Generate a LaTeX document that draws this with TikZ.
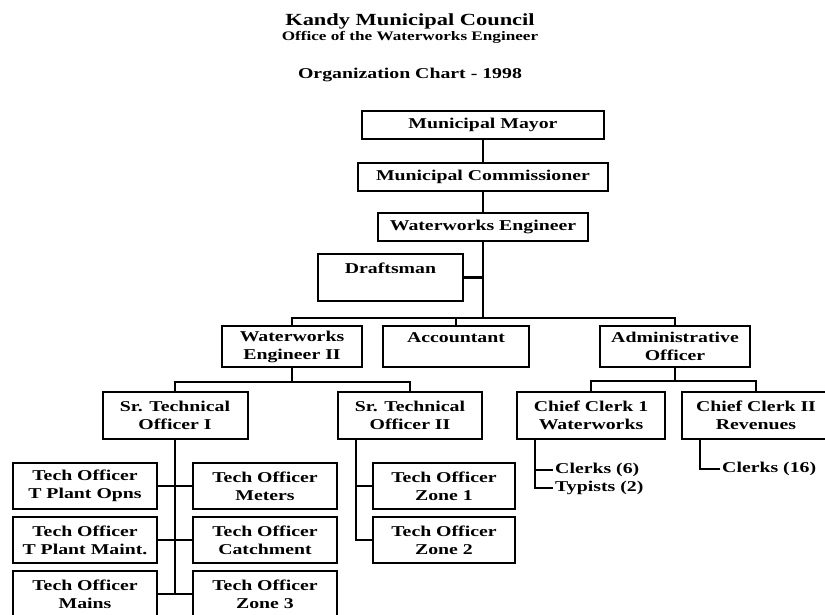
\documentclass[tikz,border=0pt]{standalone}
\usepackage{fontspec}
\setmainfont{Liberation Serif}[FakeStretch=1.32]
\begin{document}
\begin{tikzpicture}[x=1pt,y=-1pt,
  post/.style={draw=black,line width=2pt,inner sep=0pt,align=center,
    font=\fontsize{15}{18}\selectfont\bfseries},
  link/.style={draw=black,line width=2.5pt},
  note/.style={anchor=west,inner sep=2pt,font=\fontsize{15}{18}\selectfont\bfseries},
  heading/.style={anchor=base,inner sep=0pt}]
\useasboundingbox[fill=white] (0,0) rectangle (825,614);

% heading
\node[heading,font=\fontsize{17}{20}\selectfont\bfseries] (t1) at (410,25) {Kandy Municipal Council};
\node[heading,font=\fontsize{13}{15}\selectfont\bfseries] (t2) at (410,40) {Office of the Waterworks Engineer};
\node[heading,font=\fontsize{15}{18}\selectfont\bfseries] (t3) at (410,78) {Organization Chart - 1998};

% top of the hierarchy
\node[post,minimum width=242pt,minimum height=28pt] (mayor) at (483,125) {Municipal Mayor};
\node[post,minimum width=250pt,minimum height=28pt] (comm) at (483,177) {Municipal Commissioner};
\node[post,minimum width=210pt,minimum height=28pt] (we) at (483,227) {Waterworks Engineer};
\node[post,minimum width=145pt,minimum height=47pt] (draft) at (390.5,277.5) {Draftsman\\\mbox{}};

% second level
\node[post,minimum width=140pt,minimum height=41pt] (wetwo) at (292,346.5) {Waterworks\\Engineer II};
\node[post,minimum width=146pt,minimum height=41pt] (acct) at (456,346.5) {Accountant\\\mbox{}};
\node[post,minimum width=150pt,minimum height=41pt] (admin) at (675,346.5) {Administrative\\Officer};

% third level
\node[post,minimum width=145pt,minimum height=47pt] (stoone) at (175,415.5) {Sr. Technical\\Officer I};
\node[post,minimum width=144pt,minimum height=47pt] (stotwo) at (410,415.5) {Sr. Technical\\Officer II};
\node[post,minimum width=148pt,minimum height=47pt] (ccone) at (591,415.5) {Chief Clerk 1\\Waterworks};
\node[post,minimum width=148pt,minimum height=47pt] (cctwo) at (756,415.5) {Chief Clerk II\\Revenues};

% technical officers
\node[post,minimum width=144pt,minimum height=46pt] (tpo) at (85,486) {Tech Officer\\T Plant Opns};
\node[post,minimum width=144pt,minimum height=46pt] (meters) at (265,486) {Tech Officer\\Meters};
\node[post,minimum width=144pt,minimum height=46pt] (tpm) at (85,540) {Tech Officer\\T Plant Maint.};
\node[post,minimum width=144pt,minimum height=46pt] (catch) at (265,540) {Tech Officer\\Catchment};
\node[post,minimum width=144pt,minimum height=46pt] (mains) at (85,594) {Tech Officer\\Mains};
\node[post,minimum width=144pt,minimum height=46pt] (zthree) at (265,594) {Tech Officer\\Zone 3};
\node[post,minimum width=142pt,minimum height=46pt] (zone1) at (444,486) {Tech Officer\\Zone 1};
\node[post,minimum width=142pt,minimum height=46pt] (zone2) at (444,540) {Tech Officer\\Zone 2};

% clerical staff
\node[note] (clerksa) at (553,470) {Clerks (6)};
\node[note] (typists) at (553,488) {Typists (2)};
\node[note] (clerksb) at (720,469) {Clerks (16)};

% bus lines
\coordinate (busa) at (0,318);
\coordinate (busb) at (0,382);
\coordinate (busc) at (0,381);
\coordinate (sttwoline) at (356,0);
\coordinate (ccoline) at (535,0);
\coordinate (cctline) at (700,0);

% connectors
\draw[link] (mayor) -- (comm);
\draw[link] (comm) -- (we);
\draw[link] (we.south) -- (we.south |- busa);
\draw[link] (draft.east) -- (draft.east -| we.south);
\draw[link] (wetwo.north) |- (admin.north |- busa) -- (admin.north);
\draw[link] (acct.north) -- (acct.north |- busa);

\draw[link] (wetwo.south) -- (wetwo.south |- busb);
\draw[link] (stoone.north) |- (stotwo.north |- busb) -- (stotwo.north);
\draw[link] (admin.south) -- (admin.south |- busc);
\draw[link] (ccone.north) |- (cctwo.north |- busc) -- (cctwo.north);

\draw[link] (stoone.south) -- (stoone.south |- mains.east);
\draw[link] (tpo.east) -- (meters.west);
\draw[link] (tpm.east) -- (catch.west);
\draw[link] (mains.east) -- (zthree.west);

\draw[link] (sttwoline |- stotwo.south) |- (zone2.west);
\draw[link] (zone1.west) -- (zone1.west -| sttwoline);

\draw[link] (ccoline |- ccone.south) |- (typists.west);
\draw[link] (clerksa.west) -- (clerksa.west -| ccoline);
\draw[link] (cctline |- cctwo.south) |- (clerksb.west);
\end{tikzpicture}
\end{document}
